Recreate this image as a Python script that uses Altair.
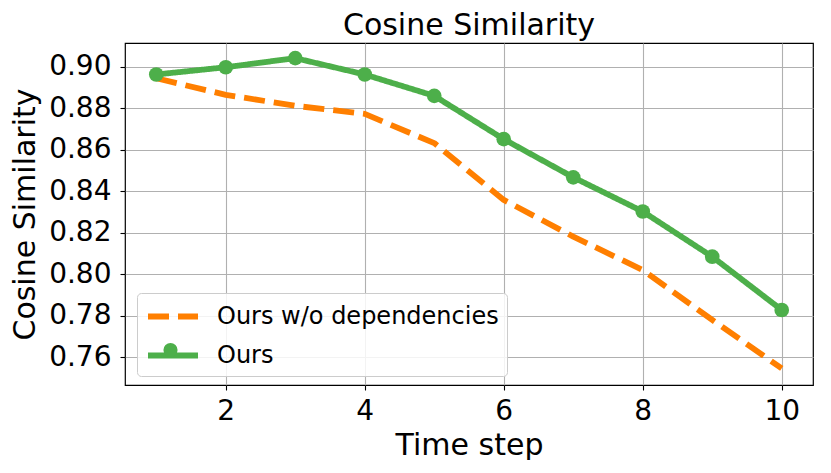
import altair as alt
import pandas as pd

# ---- data ----
time_steps = [1, 2, 3, 4, 5, 6, 7, 8, 9, 10]
ours = [0.8963, 0.8998, 0.9042, 0.8963, 0.8860, 0.8651, 0.8467, 0.8302, 0.8084, 0.7827]
ours_wo_dep = [0.8945, 0.8865, 0.8812, 0.8773, 0.8632, 0.8358, 0.8181, 0.8020, 0.7779, 0.7545]

series_names = ["Ours w/o dependencies", "Ours"]
series_colors = ["#ff7f00", "#4daf4a"]
series_dashes = [[21, 9], [1, 0]]

y_ticks = [0.76, 0.78, 0.80, 0.82, 0.84, 0.86, 0.88, 0.90]
x_ticks = [2, 4, 6, 8, 10]

rows = []
for name, vals in zip(series_names, [ours_wo_dep, ours]):
    for t, v in zip(time_steps, vals):
        rows.append({"step": t, "value": v, "series": name})
df = pd.DataFrame(rows)

FONT = "DejaVu Sans"

x_enc = alt.X(
    "step:Q",
    scale=alt.Scale(domain=[0.55, 10.45], nice=False, zero=False),
    axis=alt.Axis(
        values=x_ticks, format="d", title="Time step",
        tickSize=5, labelPadding=29, labelBaseline="alphabetic",
        titleX=344, titleY=69, titleBaseline="alphabetic", titleAlign="center",
    ),
)
y_enc = alt.Y(
    "value:Q",
    scale=alt.Scale(domain=[0.7465, 0.9115], nice=False, zero=False),
    axis=alt.Axis(
        values=y_ticks, format=".2f", title="Cosine Similarity",
        tickSize=5, labelPadding=9,
        titleX=-91, titleY=171, titleAngle=270, titleBaseline="alphabetic", titleAlign="center",
    ),
)

# legend line handle: a 50px long stroke starting at the entry's left edge
legend_main = alt.Legend(
    title=None, orient="none", legendX=12, legendY=250,
    symbolType="M-1,0H3", symbolSize=625, symbolStrokeWidth=5.8,
    labelFontSize=24, labelFont=FONT, labelColor="black", labelOffset=41, labelLimit=600,
    padding=8, rowPadding=11,
    fillColor="rgba(255,255,255,0.85)", strokeColor="#cccccc", cornerRadius=4,
)

lines = alt.Chart(df).mark_line(strokeWidth=5.8, strokeCap="butt", strokeJoin="round").encode(
    x=x_enc,
    y=y_enc,
    color=alt.Color("series:N", scale=alt.Scale(domain=series_names, range=series_colors),
                    legend=legend_main, sort=series_names),
    strokeDash=alt.StrokeDash("series:N", scale=alt.Scale(domain=series_names, range=series_dashes),
                              legend=legend_main, sort=series_names),
    order=alt.Order("step:Q"),
)

points = alt.Chart(df).transform_filter(alt.datum.series == "Ours").mark_point(
    filled=True, size=215, opacity=1, color="#4daf4a"
).encode(
    x=alt.X("step:Q"),
    y=alt.Y("value:Q"),
    shape=alt.Shape(
        "series:N",
        scale=alt.Scale(domain=["Ours"], range=["circle"]),
        legend=alt.Legend(
            title=None, orient="none", legendX=38, legendY=299.5,
            padding=0, labelExpr="''", labelFontSize=1, labelOffset=0,
            symbolSize=200, symbolFillColor="#4daf4a", symbolStrokeColor="#4daf4a",
            symbolStrokeWidth=0, symbolOpacity=1,
        ),
    ),
)

chart = alt.layer(lines, points).properties(
    width=688,
    height=342,
    title=alt.TitleParams(
        "Cosine Similarity", fontSize=30, font=FONT, fontWeight="normal",
        color="black", baseline="alphabetic", offset=10, dy=32, anchor="middle", frame="group",
    ),
    autosize=alt.AutoSizeParams(type="none"),
    padding={"left": 117, "top": 35, "right": 6, "bottom": 75},
).configure_view(
    stroke="black", strokeWidth=1.2,
).configure_axis(
    grid=True, gridColor="#b0b0b0", gridWidth=1.1, domain=False,
    tickColor="black", tickWidth=1.1,
    labelFont=FONT, labelFontSize=28, labelColor="black",
    titleFont=FONT, titleFontSize=30, titleColor="black", titleFontWeight="normal",
).configure_legend(
    labelFont=FONT,
)

chart.save("out.html", embed_options={"renderer": "svg", "actions": False})
